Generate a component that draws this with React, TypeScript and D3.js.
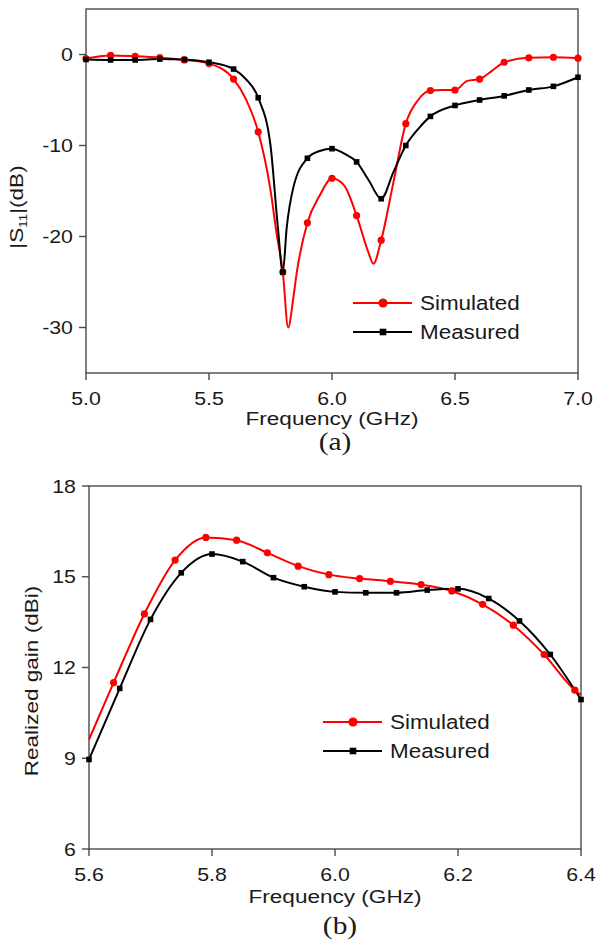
import React from "react";
import * as d3 from "d3";

// ---------- Panel (a): |S11| ----------
const s11SimFreq = [5.0, 5.1, 5.2, 5.3, 5.4, 5.5, 5.6, 5.65, 5.7, 5.75, 5.775, 5.8, 5.822, 5.843, 5.856, 5.9, 5.95, 6.0, 6.05, 6.1, 6.15, 6.168, 6.2, 6.25, 6.3, 6.35, 6.4, 6.45, 6.5, 6.55, 6.6, 6.65, 6.7, 6.8, 6.9, 7.0];
const s11SimVal = [-0.45, -0.1, -0.2, -0.35, -0.6, -1.0, -2.7, -4.9, -8.5, -14.9, -19.7, -23.9, -30.0, -26.7, -24.1, -18.5, -15.5, -13.6, -14.4, -17.7, -21.9, -23.0, -20.4, -14.0, -7.6, -5.0, -3.96, -3.9, -3.9, -2.9, -2.7, -1.8, -0.85, -0.36, -0.3, -0.4];
const s11MeasFreq = [5.0, 5.1, 5.2, 5.3, 5.4, 5.5, 5.6, 5.65, 5.7, 5.75, 5.78, 5.8, 5.816, 5.843, 5.9, 5.95, 6.0, 6.05, 6.1, 6.15, 6.2, 6.25, 6.3, 6.35, 6.4, 6.5, 6.6, 6.7, 6.8, 6.9, 7.0];
const s11MeasVal = [-0.55, -0.6, -0.6, -0.5, -0.55, -0.85, -1.6, -2.7, -4.75, -10.0, -19.0, -23.9, -19.0, -14.6, -11.4, -10.6, -10.35, -10.9, -11.8, -13.85, -15.85, -12.9, -10.0, -8.2, -6.8, -5.6, -5.0, -4.55, -3.9, -3.5, -2.5];
const s11MarkerFreq = [5.0, 5.1, 5.2, 5.3, 5.4, 5.5, 5.6, 5.7, 5.8, 5.9, 6.0, 6.1, 6.2, 6.3, 6.4, 6.5, 6.6, 6.7, 6.8, 6.9, 7.0];
const s11XTicks = [5.0, 5.5, 6.0, 6.5, 7.0];
const s11YTicks = [0, -10, -20, -30];

// ---------- Panel (b): Realized gain ----------
const gainSimFreq = [5.6, 5.64, 5.69, 5.74, 5.79, 5.84, 5.89, 5.94, 5.99, 6.04, 6.09, 6.14, 6.19, 6.24, 6.29, 6.34, 6.39, 6.4];
const gainSimVal = [9.62, 11.5, 13.77, 15.55, 16.3, 16.21, 15.79, 15.35, 15.07, 14.94, 14.85, 14.74, 14.53, 14.09, 13.4, 12.43, 11.25, 11.1];
const gainSimMarkerFreq = [5.64, 5.69, 5.74, 5.79, 5.84, 5.89, 5.94, 5.99, 6.04, 6.09, 6.14, 6.19, 6.24, 6.29, 6.34, 6.39];
const gainMeasFreq = [5.6, 5.65, 5.7, 5.75, 5.8, 5.85, 5.9, 5.95, 6.0, 6.05, 6.1, 6.15, 6.2, 6.25, 6.3, 6.35, 6.4];
const gainMeasVal = [8.96, 11.31, 13.59, 15.13, 15.75, 15.5, 14.97, 14.67, 14.5, 14.47, 14.47, 14.56, 14.6, 14.28, 13.54, 12.43, 10.94];
const gainMeasMarkerFreq = gainMeasFreq;
const gainXTicks = [5.6, 5.8, 6.0, 6.2, 6.4];
const gainYTicks = [6, 9, 12, 15, 18];

const seriesNames = ["Simulated", "Measured"];

const RED = "#ff0000";
const BLACK = "#000000";
const AXIS = "#4a4a4a";
const SANS = "'Liberation Sans', Arial, sans-serif";
const SERIF = "'Liberation Serif', 'Times New Roman', serif";

type TP = { x: number; y: number; size: number; sx?: number; anchor?: string; rotate?: number; family?: string; children: React.ReactNode };
function T({ x, y, size, sx = 1.22, anchor = "start", rotate = 0, family = SANS, children }: TP) {
  return (
    <text
      transform={`translate(${x},${y}) rotate(${rotate}) scale(${sx},1)`}
      fontSize={size}
      fontFamily={family}
      textAnchor={anchor}
      fill="#1a1a1a"
    >
      {children}
    </text>
  );
}

function zip(f: number[], v: number[]) {
  return f.map((x, i) => [x, v[i]] as [number, number]);
}

type PanelProps = {
  x0: number; x1: number; y0: number; y1: number;
  xDomain: [number, number]; yDomain: [number, number];
  xTicks: number[]; yTicks: number[]; xFmt: (d: number) => string;
  sim: [number, number][]; meas: [number, number][];
  simMarks: number[]; measMarks: number[];
  legendX: number; legendY: number;
};

function Panel(p: PanelProps) {
  const x = d3.scaleLinear().domain(p.xDomain).range([p.x0, p.x1]);
  const y = d3.scaleLinear().domain(p.yDomain).range([p.y1, p.y0]);
  const line = d3.line<[number, number]>().x(d => x(d[0])).y(d => y(d[1])).curve(d3.curveMonotoneX);
  const lookup = (arr: [number, number][], f: number) => arr.find(d => Math.abs(d[0] - f) < 1e-6)!;
  const tick = 7;
  return (
    <g>
      <rect x={p.x0} y={p.y0} width={p.x1 - p.x0} height={p.y1 - p.y0} fill="none" stroke={AXIS} strokeWidth={1.4} />
      {p.xTicks.map(t => (
        <g key={"xt" + t}>
          <line x1={x(t)} x2={x(t)} y1={p.y1} y2={p.y1 + tick} stroke={AXIS} strokeWidth={1.4} />
          <T x={x(t)} y={p.y1 + 32} size={17.5} anchor="middle">{p.xFmt(t)}</T>
        </g>
      ))}
      {p.yTicks.map(t => (
        <g key={"yt" + t}>
          <line x1={p.x0 - tick} x2={p.x0} y1={y(t)} y2={y(t)} stroke={AXIS} strokeWidth={1.4} />
          <T x={p.x0 - 13} y={y(t) + 6.5} size={17.5} anchor="end">{String(t)}</T>
        </g>
      ))}
      <path d={line(p.sim) || ""} fill="none" stroke={RED} strokeWidth={2} />
      <path d={line(p.meas) || ""} fill="none" stroke={BLACK} strokeWidth={2} />
      {p.simMarks.map(f => {
        const d = lookup(p.sim, f);
        return <circle key={"sm" + f} cx={x(d[0])} cy={y(d[1])} r={3.6} fill={RED} />;
      })}
      {p.measMarks.map(f => {
        const d = lookup(p.meas, f);
        return <rect key={"mm" + f} x={x(d[0]) - 2.8} y={y(d[1]) - 2.8} width={5.6} height={5.6} fill={BLACK} />;
      })}
      {/* legend */}
      <g>
        <line x1={p.legendX} x2={p.legendX + 59} y1={p.legendY} y2={p.legendY} stroke={RED} strokeWidth={2} />
        <circle cx={p.legendX + 30} cy={p.legendY} r={4.6} fill={RED} />
        <T x={p.legendX + 67} y={p.legendY + 7} size={19.5} sx={1.15}>{seriesNames[0]}</T>
        <line x1={p.legendX} x2={p.legendX + 59} y1={p.legendY + 29} y2={p.legendY + 29} stroke={BLACK} strokeWidth={2} />
        <rect x={p.legendX + 30 - 3.3} y={p.legendY + 29 - 3.3} width={6.6} height={6.6} fill={BLACK} />
        <T x={p.legendX + 67} y={p.legendY + 36} size={19.5} sx={1.15}>{seriesNames[1]}</T>
      </g>
    </g>
  );
}

export default function App() {
  return (
    <svg
      width={596}
      height={943}
      style={{ position: "absolute", left: 0, top: 0, background: "#fff" }}
    >
      <rect width={596} height={943} fill="#fff" />
      <Panel
        x0={86} x1={578} y0={9} y1={373}
        xDomain={[5, 7]} yDomain={[-35, 5]}
        xTicks={s11XTicks} yTicks={s11YTicks} xFmt={d => d.toFixed(1)}
        sim={zip(s11SimFreq, s11SimVal)} meas={zip(s11MeasFreq, s11MeasVal)}
        simMarks={s11MarkerFreq} measMarks={s11MarkerFreq}
        legendX={353} legendY={303}
      />
      <T x={332} y={425} size={18.5} anchor="middle">Frequency (GHz)</T>
      <T x={335} y={450} size={24.5} sx={1.2} anchor="middle" family={SERIF}>(a)</T>
      <T x={23} y={207} size={18.5} anchor="middle" rotate={-90}>
        |S<tspan fontSize={11} dy={4}>11</tspan><tspan dy={-4}>|(dB)</tspan>
      </T>

      <Panel
        x0={89} x1={581} y0={486} y1={849}
        xDomain={[5.6, 6.4]} yDomain={[6, 18]}
        xTicks={gainXTicks} yTicks={gainYTicks} xFmt={d => d.toFixed(1)}
        sim={zip(gainSimFreq, gainSimVal)} meas={zip(gainMeasFreq, gainMeasVal)}
        simMarks={gainSimMarkerFreq} measMarks={gainMeasMarkerFreq}
        legendX={323} legendY={722}
      />
      <T x={335} y={903} size={18.5} anchor="middle">Frequency (GHz)</T>
      <T x={340} y={934} size={24.5} sx={1.2} anchor="middle" family={SERIF}>(b)</T>
      <T x={38} y={681} size={18.5} anchor="middle" rotate={-90}>Realized gain (dBi)</T>
    </svg>
  );
}
